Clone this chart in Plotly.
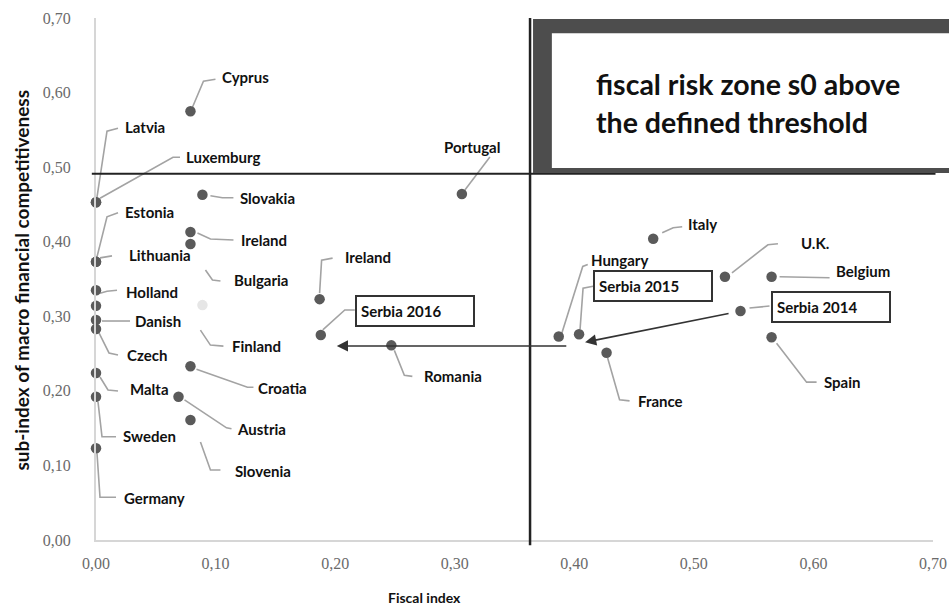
import plotly.graph_objects as go

# ---- data -------------------------------------------------------------
countries = ["Cyprus", "Latvia", "Luxemburg", "Estonia", "Lithuania", "Holland", "",
             "Danish", "Czech", "Malta", "Sweden", "Germany", "Slovakia", "Ireland",
             "Bulgaria", "Finland", "Croatia", "Austria", "Slovenia", "Portugal",
             "Ireland", "Romania", "Italy", "U.K.", "Belgium", "Spain", "Hungary", "France"]
fiscal_index = [0.079, 0.0, 0.0, 0.0, 0.0, 0.0, 0.0,
                0.0, 0.0, 0.0, 0.0, 0.0, 0.089, 0.079,
                0.079, 0.089, 0.079, 0.069, 0.079, 0.306,
                0.187, 0.247, 0.466, 0.526, 0.565, 0.565, 0.387, 0.427]
competitiveness = [0.575, 0.453, 0.453, 0.373, 0.373, 0.335, 0.314,
                   0.295, 0.283, 0.224, 0.192, 0.123, 0.463, 0.413,
                   0.397, 0.315, 0.233, 0.192, 0.161, 0.464,
                   0.323, 0.261, 0.404, 0.353, 0.353, 0.272, 0.273, 0.251]

serbia_labels = ["Serbia 2014", "Serbia 2015", "Serbia 2016"]
serbia_fiscal = [0.539, 0.404, 0.188]
serbia_comp = [0.307, 0.276, 0.275]

fiscal_threshold = 0.363
comp_threshold = 0.491

tick_values = [0.0, 0.1, 0.2, 0.3, 0.4, 0.5, 0.6, 0.7]
tick_text = ["0,00", "0,10", "0,20", "0,30", "0,40", "0,50", "0,60", "0,70"]

zone_text = ["fiscal risk zone s0 above", "the defined threshold"]

# ---- label layout (pixel offsets from each point, y pointing down) ------
# leader polyline points, then label anchor (left edge, vertical middle)
label_layout = [
    ([(2, -4), (13, -30), (25, -32)], (30, -34)),     # Cyprus
    ([(1, -5), (11, -71), (22, -74)], (27, -75)),     # Latvia
    ([(4, -4), (77, -45), (84, -45)], (88, -45)),     # Luxemburg
    ([(1, -5), (11, -45), (22, -49)], (27, -50)),     # Estonia
    ([(4, -4), (16, -6)], (31, -7)),                  # Lithuania
    ([(4, 3), (11, 1), (21, 0)], (28, 2)),            # Holland
    (None, None),                                     # unlabelled
    ([(6, 1), (34, 1)], (37, 1)),                     # Danish
    ([(3, 4), (13, 24), (22, 26)], (29, 26)),         # Czech
    ([(4, 4), (12, 17), (22, 18)], (32, 16)),         # Malta
    ([(2, 5), (6, 40), (20, 40)], (25, 39)),          # Sweden
    ([(1, 5), (4, 49), (20, 49)], (26, 50)),          # Germany
    ([(8, 1), (20, 3), (31, 3)], (36, 3)),            # Slovakia
    ([(7, 1), (20, 7), (43, 8)], (49, 8)),            # Ireland
    ([(15, 26), (22, 36), (30, 37)], (42, 36)),       # Bulgaria
    ([(-2, 25), (8, 40), (21, 41)], (28, 41)),        # Finland
    ([(6, 3), (57, 21), (63, 21)], (66, 22)),         # Croatia
    ([(6, 3), (48, 31), (53, 32)], (56, 32)),         # Austria
    ([(10, 22), (20, 50), (30, 50)], (43, 51)),       # Slovenia
    ([(3, -4), (28, -37)], (-20, -47)),               # Portugal
    ([(0, -6), (2, -39), (13, -41)], (23, -42)),      # Ireland
    ([(3, 5), (13, 30), (21, 31)], (31, 31)),         # Romania
    ([(9, -6), (20, -11), (29, -12)], (33, -15)),     # Italy
    ([(7, -4), (43, -32), (53, -33)], (74, -34)),     # U.K.
    ([(8, 0), (58, 1)], (62, -6)),                    # Belgium
    ([(5, 6), (35, 45), (45, 45)], (50, 45)),         # Spain
    ([(3, -3), (24, -70), (29, -72)], (30, -76)),     # Hungary
    ([(1, 5), (13, 47), (23, 48)], (29, 48)),         # France
]
serbia_layout = [
    ([(9, -3), (29, -5)], (31, -4)),                  # 2014
    ([(1, -5), (4, -46), (14, -48)], (14, -48)),      # 2015
    ([(2, -5), (24, -25), (34, -25)], (34, -24)),     # 2016
]

X_MAX = 0.70
Y_MAX = 0.70
LEADER_COLOR = "#a3a3a3"
DOT_COLOR = "#5a5a5a"
LABEL_FONT = dict(family="Lato", size=15, color="#111111", weight="bold")

fig = go.Figure()

dot_colors = ["#e6e6e6" if c == "Finland" else DOT_COLOR for c in countries]
fig.add_trace(go.Scatter(
    x=fiscal_index, y=competitiveness, mode="markers", cliponaxis=False,
    marker=dict(size=10.5, color=dot_colors), hoverinfo="skip", showlegend=False))
fig.add_trace(go.Scatter(
    x=serbia_fiscal, y=serbia_comp, mode="markers", cliponaxis=False,
    marker=dict(size=10.5, color=DOT_COLOR), hoverinfo="skip", showlegend=False))

shapes = []
annotations = []


def leader(x, y, pts):
    path = "M " + " L ".join(f"{dx},{-dy}" for dx, dy in pts)
    return dict(type="path", xref="x", yref="y", xsizemode="pixel", ysizemode="pixel",
                xanchor=x, yanchor=y, path=path, layer="below",
                line=dict(color=LEADER_COLOR, width=1.6))


for name, x, y, (pts, lab) in zip(countries, fiscal_index, competitiveness, label_layout):
    if not name:
        continue
    shapes.append(leader(x, y, pts))
    annotations.append(dict(x=x, y=y, xref="x", yref="y", text=name, showarrow=False,
                            xanchor="left", yanchor="middle", xshift=lab[0], yshift=-lab[1],
                            font=LABEL_FONT))

for name, x, y, (pts, lab) in zip(serbia_labels, serbia_fiscal, serbia_comp, serbia_layout):
    shapes.append(leader(x, y, pts))
    annotations.append(dict(x=x, y=y, xref="x", yref="y", text=name, showarrow=False,
                            xanchor="left", yanchor="middle", xshift=lab[0], yshift=-lab[1],
                            align="left", width=108, height=20, borderpad=4, borderwidth=2,
                            bordercolor="#333333", bgcolor="white", font=LABEL_FONT))

# Serbia's path over the years
annotations.append(dict(x=serbia_fiscal[1], y=serbia_comp[1], xref="x", yref="y", text="",
                        showarrow=True, arrowhead=2, arrowsize=1.4, arrowwidth=1.6,
                        arrowcolor="#333333", ax=145, ay=-29, xshift=6, yshift=-8))
annotations.append(dict(x=serbia_fiscal[2], y=serbia_comp[2], xref="x", yref="y", text="",
                        showarrow=True, arrowhead=2, arrowsize=1.4, arrowwidth=1.6,
                        arrowcolor="#333333", ax=231, ay=0, xshift=16, yshift=-11))

# threshold lines
shapes.append(dict(type="line", xref="paper", yref="y", x0=-0.005, x1=1.003,
                   y0=comp_threshold, y1=comp_threshold, line=dict(color="#222222", width=2)))
shapes.append(dict(type="line", xref="x", yref="paper", x0=fiscal_threshold, x1=fiscal_threshold,
                   y0=-0.01, y1=1.0, line=dict(color="#222222", width=2.5)))

# fiscal risk zone panel (paper coordinates so it may run past the plot edge)
zx0 = (fiscal_threshold + 0.0025) / X_MAX
zy0 = (comp_threshold + 0.001) / Y_MAX
shapes.append(dict(type="rect", xref="paper", yref="paper", x0=zx0, x1=1.1, y0=zy0, y1=0.998,
                   fillcolor="#4d4d4d", line=dict(width=0)))
shapes.append(dict(type="rect", xref="paper", yref="paper", x0=zx0 + 0.0225, x1=1.1,
                   y0=zy0 + 0.0096, y1=0.971, fillcolor="white", line=dict(width=0)))
for i, line in enumerate(zone_text):
    annotations.append(dict(x=0.595, y=0.8736 - i * 0.0728, xref="paper", yref="paper",
                            text=line, showarrow=False, xanchor="left", yanchor="middle",
                            font=dict(family="Lato", size=28.5, color="#111111", weight="bold")))

# axis titles
annotations.append(dict(x=-0.0884, y=0.497, xref="paper", yref="paper",
                        text="sub-index of macro financial competitiveness", textangle=-90,
                        showarrow=False, xanchor="center", yanchor="middle",
                        font=dict(family="Lato", size=19, color="#111111", weight="bold")))
annotations.append(dict(x=0.393, y=-0.111, xref="paper", yref="paper", text="Fiscal index",
                        showarrow=False, xanchor="center", yanchor="middle",
                        font=dict(family="Lato", size=14, color="#111111", weight="bold")))

axis_common = dict(showgrid=False, zeroline=False, showline=True, linecolor="#d6d6d6",
                   linewidth=2, ticks="", tickvals=tick_values, ticktext=tick_text,
                   automargin=False,
                   tickfont=dict(family="Liberation Serif", size=16, color="#6a6a6a"))

fig.update_layout(
    width=949, height=609,
    margin=dict(l=96, r=16, t=18, b=69),
    plot_bgcolor="white", paper_bgcolor="white",
    xaxis=dict(range=[0, X_MAX], ticklabelstandoff=8, **axis_common),
    yaxis=dict(range=[0, Y_MAX], ticklabelstandoff=20, **axis_common),
    shapes=shapes, annotations=annotations, showlegend=False,
)

fig.write_html("out.html")
